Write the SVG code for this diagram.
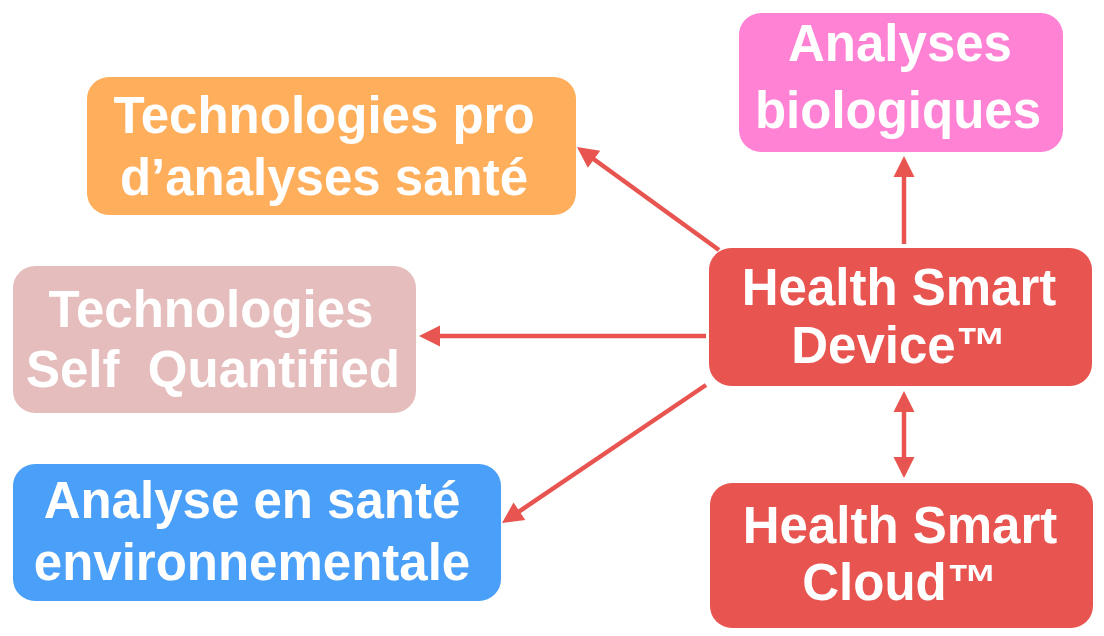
<svg xmlns="http://www.w3.org/2000/svg" width="1104" height="636" viewBox="0 0 1104 636">
<style>
.t{font-family:"Liberation Sans",Arial,sans-serif;font-weight:bold;font-size:51px;fill:#ffffff;text-anchor:middle;white-space:pre}
.c{stroke:#E8544F;stroke-width:4.5;fill:none}
</style>
<defs>
<marker id="ah" markerUnits="userSpaceOnUse" markerWidth="22" markerHeight="22" viewBox="0 0 21 22" refX="1" refY="11" orient="auto-start-reverse">
<path d="M0,0.5 L21,11 L0,21.5 z" fill="#E8544F"/>
</marker>
</defs>
<rect width="1104" height="636" fill="#ffffff"/>
<g id="connectors">
<line class="c" x1="719" y1="250" x2="593.2" y2="158.7" marker-end="url(#ah)"/>
<line class="c" x1="904" y1="244" x2="904" y2="176" marker-end="url(#ah)"/>
<line class="c" x1="706" y1="336" x2="439" y2="336" marker-end="url(#ah)"/>
<line class="c" x1="706" y1="385" x2="518.6" y2="511.8" marker-end="url(#ah)"/>
<line class="c" x1="904" y1="411" x2="904" y2="458" marker-start="url(#ah)" marker-end="url(#ah)"/>
</g>
<g id="node-bio">
<rect x="739" y="13" width="324" height="139" rx="22" fill="#FF82D4"/>
<text class="t" x="900" y="61">Analyses</text>
<text class="t" x="898" y="128">biologiques</text>
</g>
<g id="node-pro">
<rect x="87" y="77" width="489" height="138" rx="22" fill="#FFAE5C"/>
<text class="t" x="324" y="133">Technologies pro</text>
<text class="t" x="324" y="195">d’analyses santé</text>
</g>
<g id="node-self">
<rect x="13" y="266" width="403" height="147" rx="22" fill="#E5BDBD"/>
<text class="t" x="211" y="327">Technologies</text>
<text class="t" x="213" y="387">Self  Quantified</text>
</g>
<g id="node-env">
<rect x="13" y="464" width="488" height="137" rx="22" fill="#4A9FF8"/>
<text class="t" x="252" y="518">Analyse en santé</text>
<text class="t" x="252" y="580">environnementale</text>
</g>
<g id="node-device">
<rect x="709" y="248" width="383" height="138" rx="22" fill="#E8544F"/>
<text class="t" x="899" y="305">Health Smart</text>
<text class="t" x="899" y="363">Device™</text>
</g>
<g id="node-cloud">
<rect x="710" y="483" width="383" height="145" rx="22" fill="#E8544F"/>
<text class="t" x="900" y="543">Health Smart</text>
<text class="t" x="900" y="600">Cloud™</text>
</g>
</svg>
